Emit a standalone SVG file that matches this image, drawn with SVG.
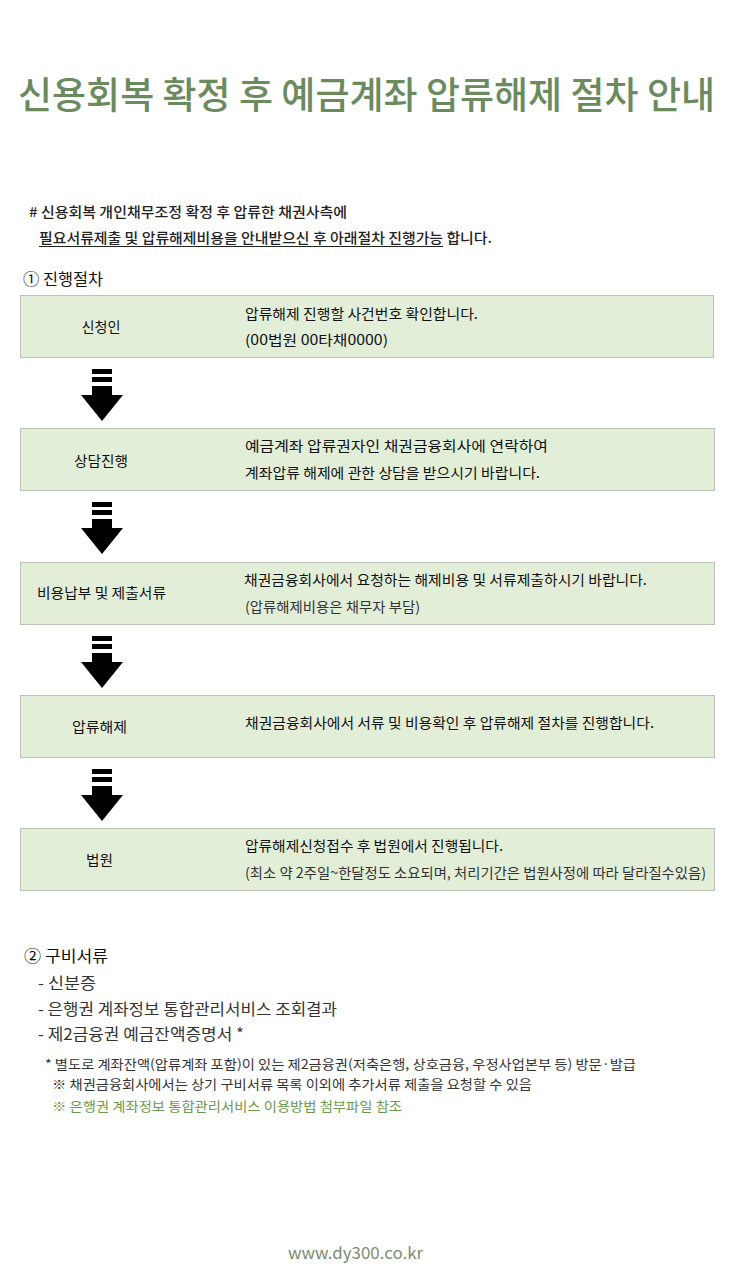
<svg xmlns="http://www.w3.org/2000/svg" width="733" height="1275" viewBox="0 0 733 1275">
<style>
text{font-family:"Noto Sans CJK KR","Noto Sans",sans-serif;fill:#222}
.title{font-size:37px;font-weight:500;fill:#6b8a5e}
.intro{font-size:14px;font-weight:500}
.sec{font-size:16px;font-weight:400;fill:#111}
.box{fill:#e3eed9;stroke:#bcc2b8;stroke-width:1}
.lbl{font-size:14px;text-anchor:middle;fill:#111}
.desc{font-size:14px;fill:#111}
.sub{font-size:14px;fill:#333}
.li{font-size:16px;fill:#333}
.note{font-size:13px;fill:#333}
.green{fill:#6b9a4c}
.foot{font-size:16px;fill:#7d8c73}
</style>
<defs>
<g id="arrow">
<rect x="92" y="0" width="20" height="5" fill="#000"/>
<rect x="92" y="8" width="20" height="5" fill="#000"/>
<rect x="92" y="17" width="20" height="10" fill="#000"/>
<polygon points="81,26 123,26 102,52" fill="#000"/>
</g>
</defs>
<rect width="733" height="1275" fill="#fff"/>
<text class="title" x="18" y="109" textLength="697" lengthAdjust="spacingAndGlyphs">신용회복 확정 후 예금계좌 압류해제 절차 안내</text>
<g id="intro">
<text class="intro" x="29" y="217" textLength="318" lengthAdjust="spacingAndGlyphs"># 신용회복 개인채무조정 확정 후 압류한 채권사측에</text>
<text class="intro" x="39" y="243" textLength="453" lengthAdjust="spacingAndGlyphs">필요서류제출 및 압류해제비용을 안내받으신 후 아래절차 진행가능 합니다.</text>
<line x1="39" y1="246.5" x2="443" y2="246.5" stroke="#222" stroke-width="1"/>
</g>
<text class="sec" x="23" y="285" textLength="80" lengthAdjust="spacingAndGlyphs">① 진행절차</text>
<g id="step1">
<rect class="box" x="20.5" y="295.5" width="693" height="62"/>
<text class="lbl" x="101" y="332" textLength="39" lengthAdjust="spacingAndGlyphs">신청인</text>
<text class="desc" x="245" y="319" textLength="233" lengthAdjust="spacingAndGlyphs">압류해제 진행할 사건번호 확인합니다.</text>
<text class="desc" x="245" y="345" textLength="143" lengthAdjust="spacingAndGlyphs">(00법원 00타채0000)</text>
</g>
<g id="step2">
<rect class="box" x="20.5" y="428.5" width="694" height="62"/>
<text class="lbl" x="101" y="466" textLength="54" lengthAdjust="spacingAndGlyphs">상담진행</text>
<text class="desc" x="245" y="451" textLength="303" lengthAdjust="spacingAndGlyphs">예금계좌 압류권자인  채권금융회사에 연락하여</text>
<text class="desc" x="245" y="478" textLength="295" lengthAdjust="spacingAndGlyphs">계좌압류 해제에 관한 상담을 받으시기 바랍니다.</text>
</g>
<g id="step3">
<rect class="box" x="20.5" y="562.5" width="694" height="62"/>
<text class="lbl" x="101.5" y="598" textLength="129" lengthAdjust="spacingAndGlyphs">비용납부 및 제출서류</text>
<text class="desc" x="244" y="585" textLength="403" lengthAdjust="spacingAndGlyphs">채권금융회사에서 요청하는 해제비용 및 서류제출하시기 바랍니다.</text>
<text class="sub" x="245" y="612" textLength="175" lengthAdjust="spacingAndGlyphs">(압류해제비용은 채무자 부담)</text>
</g>
<g id="step4">
<rect class="box" x="20.5" y="695.5" width="694" height="62"/>
<text class="lbl" x="99.5" y="732" textLength="55" lengthAdjust="spacingAndGlyphs">압류해제</text>
<text class="desc" x="245" y="728" textLength="409" lengthAdjust="spacingAndGlyphs">채권금융회사에서 서류 및 비용확인 후 압류해제 절차를 진행합니다.</text>
</g>
<g id="step5">
<rect class="box" x="20.5" y="828.5" width="694" height="62"/>
<text class="lbl" x="99.5" y="865" textLength="27" lengthAdjust="spacingAndGlyphs">법원</text>
<text class="desc" x="245" y="851" textLength="258" lengthAdjust="spacingAndGlyphs">압류해제신청접수 후 법원에서 진행됩니다.</text>
<text class="sub" x="245" y="878" textLength="461" lengthAdjust="spacingAndGlyphs">(최소 약 2주일~한달정도 소요되며, 처리기간은 법원사정에 따라 달라질수있음)</text>
</g>
<g id="connectors">
<use href="#arrow" y="369"/>
<use href="#arrow" y="502"/>
<use href="#arrow" y="636"/>
<use href="#arrow" y="769"/>
</g>
<g id="docs">
<text class="sec" x="24" y="962" textLength="84" lengthAdjust="spacingAndGlyphs">② 구비서류</text>
<text class="li" x="38" y="989" textLength="58" lengthAdjust="spacingAndGlyphs">- 신분증</text>
<text class="li" x="38" y="1015" textLength="299" lengthAdjust="spacingAndGlyphs">- 은행권 계좌정보 통합관리서비스 조회결과</text>
<text class="li" x="38" y="1040" textLength="206" lengthAdjust="spacingAndGlyphs">- 제2금융권 예금잔액증명서 *</text>
<text class="note" x="45" y="1069" textLength="591" lengthAdjust="spacingAndGlyphs">* 별도로 계좌잔액(압류계좌 포함)이 있는 제2금융권(저축은행, 상호금융, 우정사업본부 등) 방문·발급</text>
<text class="note" x="52" y="1089" textLength="480" lengthAdjust="spacingAndGlyphs">※ 채권금융회사에서는 상기 구비서류 목록 이외에 추가서류 제출을 요청할 수 있음</text>
<text class="note green" x="52" y="1111" textLength="350" lengthAdjust="spacingAndGlyphs">※ 은행권 계좌정보 통합관리서비스 이용방법 첨부파일 참조</text>
</g>
<text class="foot" x="288" y="1259" textLength="135" lengthAdjust="spacingAndGlyphs">www.dy300.co.kr</text>
</svg>
